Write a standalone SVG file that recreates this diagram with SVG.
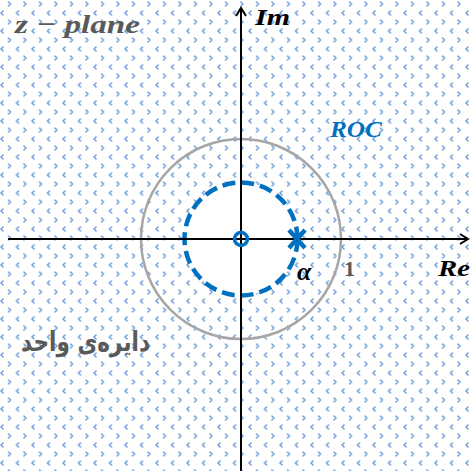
<svg xmlns="http://www.w3.org/2000/svg" width="472" height="471" viewBox="0 0 472 471">
  <defs>
    <style>
      .glyph { fill: none; stroke: #6f9fdc; stroke-width: 1.6; stroke-linecap: round; stroke-linejoin: round; }
      .axis { stroke: #000; stroke-width: 2; fill: none; }
      .unit { fill: none; stroke: #a6a6a6; stroke-width: 2.5; }
      .roc { fill: #fff; stroke: #0070c0; stroke-width: 4.5; stroke-dasharray: 13 6; }
      .blue { fill: none; stroke: #0070c0; stroke-width: 3.5; }
      .math { font-family: "Liberation Serif", "DejaVu Serif", serif; font-style: italic; font-weight: bold; }
      .upright { font-style: normal; }
    </style>
    <pattern id="dots" patternUnits="userSpaceOnUse" x="0" y="0" width="15.5" height="18">
      <polyline class="glyph" points="8.5,2 10.5,4 8.5,6"/>
      <polyline class="glyph" points="3,11 1,13 3,15"/>
    </pattern>
    <marker id="arr" viewBox="0 0 12 12" refX="10" refY="6" markerWidth="12" markerHeight="12" markerUnits="userSpaceOnUse" orient="auto">
      <polyline points="2,1 10,6 2,11" fill="none" stroke="#000" stroke-width="2"/>
    </marker>
  </defs>
  <rect x="0" y="0" width="472" height="471" fill="#fff"/>
  <rect id="roc-region" x="0" y="0" width="472" height="471" fill="url(#dots)"/>
  <g id="unit-circle">
    <circle class="unit" cx="241" cy="239" r="100"/>
  </g>
  <g id="roc-boundary">
    <circle class="roc" cx="241" cy="239" r="56.5"/>
  </g>
  <g id="connectors">
    <line class="axis" x1="8" y1="239" x2="468" y2="239" marker-end="url(#arr)"/>
    <line class="axis" x1="241" y1="471" x2="241" y2="8" marker-end="url(#arr)"/>
  </g>
  <g id="zero">
    <circle class="blue" cx="241" cy="239" r="6.5"/>
  </g>
  <g id="pole">
    <path d="M289,230 L305,248 M305,230 L289,248" stroke="#0070c0" stroke-width="4.5" fill="none"/>
  </g>
  <g id="labels">
    <text class="math" x="15" y="33" font-size="26" fill="#595959" textLength="125" lengthAdjust="spacingAndGlyphs">z − plane</text>
    <text class="math" x="255" y="25" font-size="24" fill="#000" textLength="35" lengthAdjust="spacingAndGlyphs">Im</text>
    <text class="math" x="330" y="137" font-size="24" fill="#0070c0" textLength="52" lengthAdjust="spacingAndGlyphs">ROC</text>
    <text class="math" x="438" y="276" font-size="24" fill="#000" textLength="32" lengthAdjust="spacingAndGlyphs">Re</text>
    <text class="math" x="297" y="280" font-size="26" fill="#000">α</text>
    <text class="math upright" x="344" y="276" font-size="22" fill="#595959">1</text>
    <text transform="translate(150,351) scale(0.8,1)" x="0" y="0" font-size="27" font-weight="bold" fill="#595959" text-anchor="end" font-family="DejaVu Sans, Noto Sans, sans-serif">دایره‌ی واحد</text>
  </g>
</svg>
